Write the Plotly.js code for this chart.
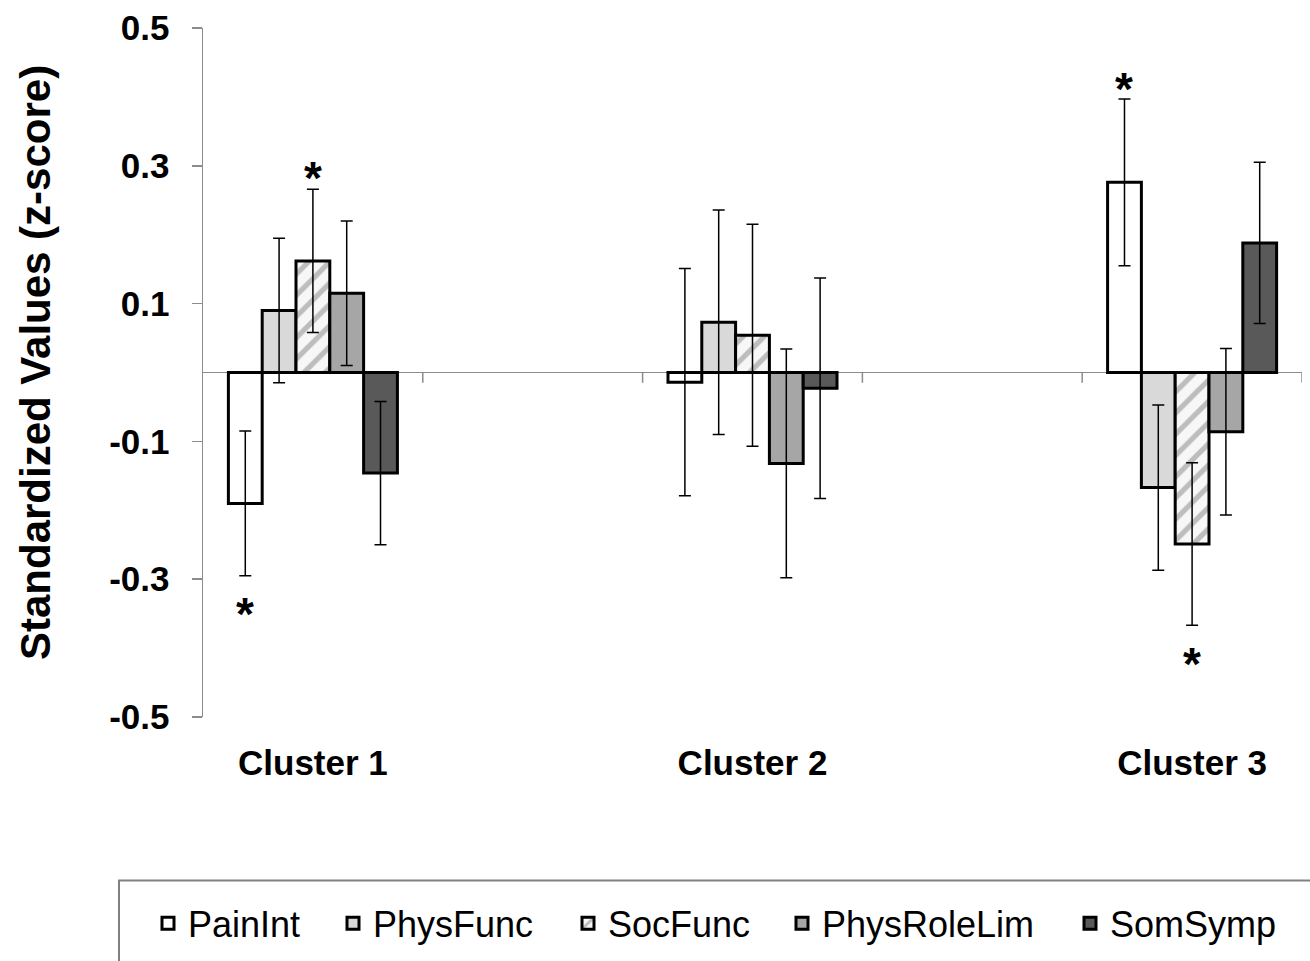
<!DOCTYPE html>
<html>
<head>
<meta charset="utf-8">
<script src="https://cdn.plot.ly/plotly-3.0.1.min.js"></script>
<style>html,body{margin:0;padding:0;background:#fff;}#chart{width:1310px;height:961px;}</style>
</head>
<body>
<div id="chart"></div>
<script>
// ---- data ----
const categories = ['Cluster 1', 'Cluster 2', 'Cluster 3'];
const seriesNames = ['PainInt', 'PhysFunc', 'SocFunc', 'PhysRoleLim', 'SomSymp'];
const painInt      = [-0.190, -0.014,  0.276];
const painIntErr   = [ 0.105,  0.165,  0.121];
const physFunc     = [ 0.090,  0.073, -0.167];
const physFuncErr  = [ 0.105,  0.163,  0.120];
const socFunc      = [ 0.162,  0.054, -0.249];
const socFuncErr   = [ 0.104,  0.161,  0.118];
const physRoleLim  = [ 0.115, -0.132, -0.086];
const physRoleErr  = [ 0.105,  0.166,  0.121];
const somSymp      = [-0.146, -0.023,  0.188];
const somSympErr   = [ 0.104,  0.160,  0.117];
const yTickVals    = [-0.5, -0.3, -0.1, 0.1, 0.3, 0.5];
const yTickText    = ['-0.5', '-0.3', '-0.1', '0.1', '0.3', '0.5'];
// significance markers: cluster index, series index, label height
const sigCluster   = [0, 0, 2, 2];
const sigSeries    = [0, 2, 0, 2];
const sigY         = [-0.334, 0.2986, 0.428, -0.4065];

// ---- styling ----
const FONT = 'Liberation Sans, Arial, sans-serif';
const values = [painInt, physFunc, socFunc, physRoleLim, somSymp];
const errs = [painIntErr, physFuncErr, socFuncErr, physRoleErr, somSympErr];
const fills = ['#ffffff', '#d9d9d9', '#f4f4f4', '#a6a6a6', '#595959'];
const xIdx = categories.map((c, i) => i);
const groupWidth = 0.3845;
const barW = groupWidth / seriesNames.length;
const legendTextStart = [188, 373, 608, 822, 1110];

const plotLeft = 203, plotRight = 1302, plotTop = 28, plotBottom = 719;
const W = 1310, H = 961;
const pw = plotRight - plotLeft, ph = plotBottom - plotTop;
const px2paperX = p => (p - plotLeft) / pw;
const px2paperY = p => (plotBottom - p) / ph;

const traces = seriesNames.map((name, i) => {
  const t = {
    type: 'bar',
    name: name,
    x: xIdx,
    y: values[i],
    marker: {color: fills[i], line: {color: '#000000', width: 3}},
    error_y: {type: 'data', array: errs[i], visible: true, color: '#000000', thickness: 1.5, width: 6},
    legend: i === 0 ? 'legend' : 'legend' + (i + 1),
    hoverinfo: 'skip'
  };
  if (i === 2) {
    t.marker.pattern = {shape: '/', fgcolor: '#bdbdbd', bgcolor: '#f7f7f7', size: 15, solidity: 0.35};
  }
  return t;
});

const xRange = [-0.25, 2.25];
const shapes = [];
// tick marks along the zero line (between category slots)
for (let k = 1; k <= 5; k++) {
  const xv = xRange[0] + 0.5 * k;
  shapes.push({type: 'line', xref: 'x', yref: 'y', x0: xv, x1: xv, y0: 0, y1: -0.015,
               line: {color: '#8c8c8c', width: 1.5}});
}
// legend frame
shapes.push({type: 'rect', xref: 'paper', yref: 'paper',
             x0: px2paperX(119), x1: px2paperX(1330), y0: px2paperY(883), y1: px2paperY(990),
             line: {color: '#808080', width: 2}, fillcolor: 'rgba(0,0,0,0)'});

const annotations = [];
sigCluster.forEach((c, k) => {
  const s = sigSeries[k];
  annotations.push({xref: 'x', yref: 'y', x: c + (s - 2) * barW, y: sigY[k], text: '*',
    showarrow: false, xanchor: 'center', yanchor: 'middle', yshift: -11,
    font: {family: FONT, size: 46, color: '#000', weight: 'bold'}});
});
annotations.push({xref: 'paper', yref: 'paper', x: px2paperX(35), y: px2paperY(364),
  text: 'Standardized Values (z-score)', textangle: -90, showarrow: false,
  xanchor: 'center', yanchor: 'middle',
  font: {family: FONT, size: 42, color: '#000', weight: 'bold'}});

const layout = {
  width: W, height: H,
  paper_bgcolor: '#ffffff', plot_bgcolor: '#ffffff',
  margin: {l: plotLeft, r: W - plotRight, t: plotTop, b: H - plotBottom, pad: 0},
  barmode: 'group', bargap: 1 - groupWidth, bargroupgap: 0,
  showlegend: true,
  xaxis: {
    range: xRange, tickvals: xIdx, ticktext: categories, ticks: '', showline: false,
    showgrid: false, zeroline: false, ticklabelstandoff: 22,
    tickfont: {family: FONT, size: 35, color: '#000', weight: 'bold'}
  },
  yaxis: {
    range: [-0.5, 0.5], tickvals: yTickVals, ticktext: yTickText,
    showline: true, linecolor: '#8c8c8c', linewidth: 1.5,
    ticks: 'outside', ticklen: 10, tickwidth: 1.5, tickcolor: '#8c8c8c',
    showgrid: false, zeroline: true, zerolinecolor: '#8c8c8c', zerolinewidth: 1.5,
    ticklabelstandoff: 15,
    tickfont: {family: FONT, size: 35, color: '#000', weight: 'bold'}
  },
  shapes: shapes,
  annotations: annotations,
  font: {family: FONT, color: '#000'}
};
seriesNames.forEach((n, i) => {
  const key = i === 0 ? 'legend' : 'legend' + (i + 1);
  layout[key] = {
    x: px2paperX(legendTextStart[i] - 40), xanchor: 'left',
    y: px2paperY(926), yanchor: 'middle',
    orientation: 'h', bgcolor: 'rgba(0,0,0,0)', borderwidth: 0,
    font: {family: FONT, size: 36, color: '#000'}
  };
});

Plotly.newPlot('chart', traces, layout, {staticPlot: true, displayModeBar: false});
</script>
</body>
</html>
